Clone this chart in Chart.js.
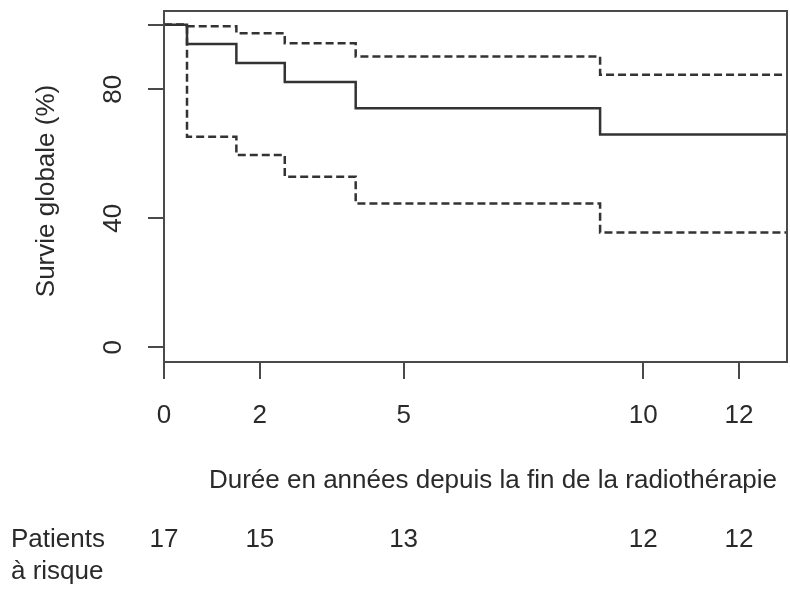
<!DOCTYPE html>
<html>
<head>
<meta charset="utf-8">
<script src="https://cdn.jsdelivr.net/npm/chart.js@4"></script>
<style>
  body { margin: 0; background: #fff; }
  #wrap { width: 790px; height: 592px; }
</style>
</head>
<body>
<div id="wrap"><canvas id="survChart"></canvas></div>
<script>
// Kaplan-Meier steps (years / % survival)
const times = [0, 0.48, 1.51, 2.52, 4.0, 9.1, 13];
const survival = [100, 94.1, 88.2, 82.3, 74.1, 66.0, 66.0];
const upperCI = [100, 99.6, 97.4, 94.3, 90.2, 84.5, 84.5];
const lowerCI = [100, 65.3, 59.6, 52.9, 44.6, 35.6, 35.6];

const xTicks = [0, 2, 5, 10, 12];
const yTicks = [0, 40, 80, 100];
const yTickLabels = ["0", "40", "80", ""];
const atRisk = [17, 15, 13, 12, 12];

const xTitle = "Durée en années depuis la fin de la radiothérapie";
const yTitle = "Survie globale (%)";
const riskLabel = ["Patients", "à risque"];

const lineCol = "#333";
const axisCol = "#4a4a4a";
const textCol = "#2a2a2a";
const font = '26px "Liberation Sans", Arial, sans-serif';

function pts(vals) {
    return times.map((t, i) => ({ x: t, y: vals[i] }));
}

const textPlugin = {
    id: "rText",
    afterDraw(chart) {
        const { ctx, chartArea: a, scales: { x, y } } = chart;
        ctx.save();
        ctx.strokeStyle = axisCol;
        ctx.lineWidth = 2;
        ctx.strokeRect(a.left, a.top, a.right - a.left, a.bottom - a.top);

        ctx.fillStyle = textCol;
        ctx.font = font;
        ctx.textAlign = "center";
        ctx.textBaseline = "middle";
        xTicks.forEach(v => ctx.fillText(String(v), x.getPixelForValue(v), 416));
        ctx.fillText(xTitle, 493, 481);
        atRisk.forEach((n, i) => ctx.fillText(String(n), x.getPixelForValue(xTicks[i]), 540));

        yTicks.forEach((v, i) => {
            ctx.save();
            ctx.translate(114, y.getPixelForValue(v));
            ctx.rotate(-Math.PI / 2);
            ctx.fillText(yTickLabels[i], 0, 0);
            ctx.restore();
        });
        ctx.save();
        ctx.translate(47, 191);
        ctx.rotate(-Math.PI / 2);
        ctx.fillText(yTitle, 0, 0);
        ctx.restore();

        ctx.textAlign = "left";
        ctx.fillText(riskLabel[0], 11, 540);
        ctx.fillText(riskLabel[1], 11, 572);
        ctx.restore();
    }
};

new Chart(document.getElementById("survChart"), {
    type: "line",
    data: {
        datasets: [
            { data: pts(survival), borderColor: lineCol, borderWidth: 2.5, stepped: "before" },
            { data: pts(upperCI), borderColor: lineCol, borderWidth: 2.5, borderDash: [8, 4], stepped: "before" },
            { data: pts(lowerCI), borderColor: lineCol, borderWidth: 2.5, borderDash: [8, 4], stepped: "before" }
        ]
    },
    options: {
        responsive: true,
        maintainAspectRatio: false,
        animation: false,
        events: [],
        layout: { padding: { left: 0, top: 11, right: 3, bottom: 0 } },
        elements: { point: { radius: 0 }, line: { tension: 0 } },
        plugins: { legend: { display: false }, tooltip: { enabled: false } },
        scales: {
            x: {
                type: "linear",
                min: 0,
                max: 13,
                afterBuildTicks: s => { s.ticks = xTicks.map(v => ({ value: v })); },
                afterFit: s => { s.height = 230; },
                ticks: { display: false },
                grid: { drawOnChartArea: false, drawTicks: true, tickLength: 17, color: axisCol, lineWidth: 2 },
                border: { display: true, color: axisCol, width: 2 }
            },
            y: {
                min: -4.6,
                max: 104.3,
                afterBuildTicks: s => { s.ticks = yTicks.map(v => ({ value: v })); },
                afterFit: s => { s.width = 164; },
                ticks: { display: false },
                grid: { drawOnChartArea: false, drawTicks: true, tickLength: 16, color: axisCol, lineWidth: 2 },
                border: { display: true, color: axisCol, width: 2 }
            }
        }
    },
    plugins: [textPlugin]
});
</script>
</body>
</html>
